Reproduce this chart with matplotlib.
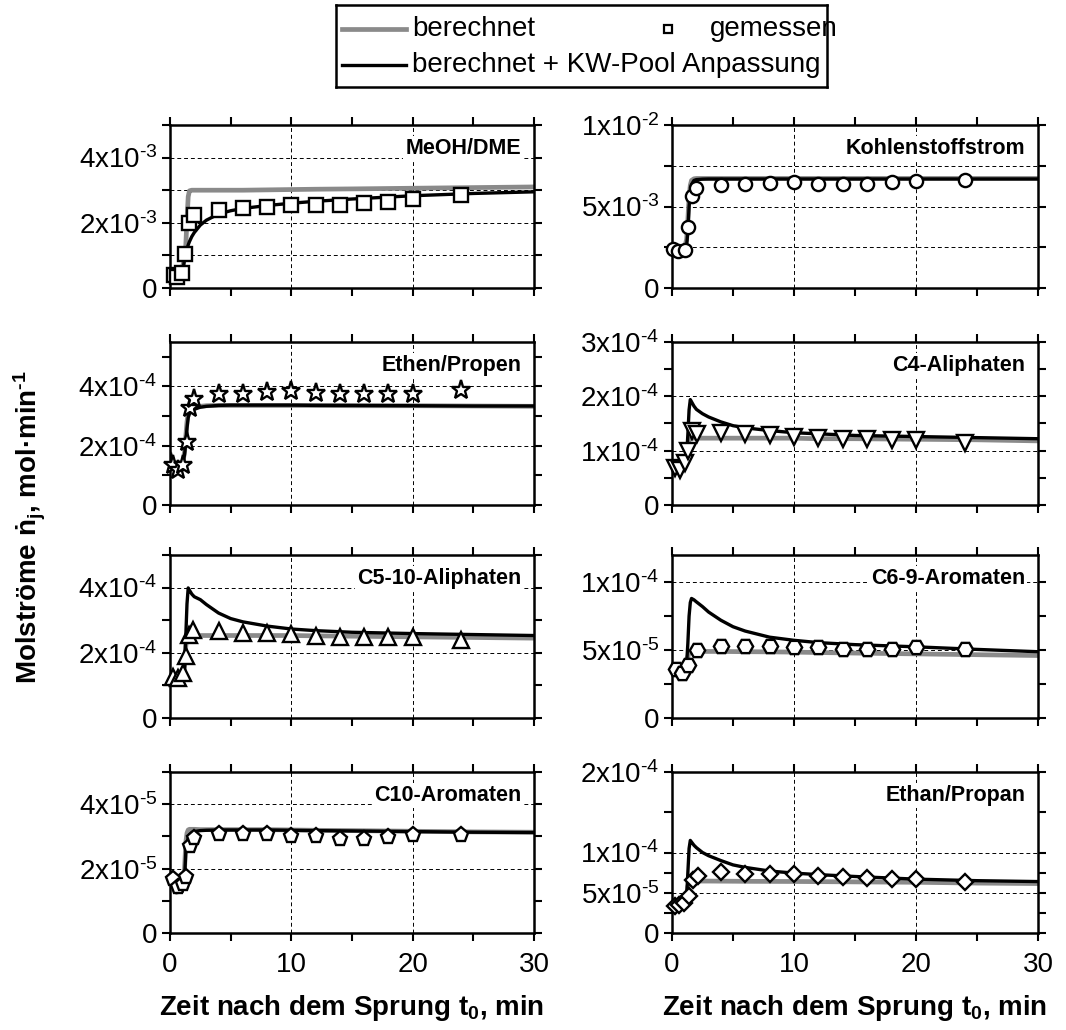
import numpy as np
import matplotlib
matplotlib.use("Agg")
import matplotlib.pyplot as plt
from matplotlib.ticker import FixedLocator, FuncFormatter
from matplotlib.lines import Line2D

plt.rcParams['font.family'] = ['Liberation Sans', 'DejaVu Sans']
plt.rcParams['mathtext.fontset'] = 'custom'
plt.rcParams['mathtext.rm'] = 'Liberation Sans'
plt.rcParams['mathtext.it'] = 'Liberation Sans:italic'
plt.rcParams['mathtext.bf'] = 'Liberation Sans:bold'

# ---------------- data ----------------
titles = ["MeOH/DME", "Kohlenstoffstrom", "Ethen/Propen", "C4-Aliphaten",
          "C5-10-Aliphaten", "C6-9-Aromaten", "C10-Aromaten", "Ethan/Propan"]
markers = ['s', 'o', '*', 'v', '^', 'H', 'p', 'D']
msizes = [9.5, 9.5, 14, 11, 11, 11, 11, 8.5]

t_line = [0, 0.5, 1.0, 1.2, 1.3, 1.4, 1.5, 1.6, 1.8, 2.0, 2.5, 3, 4, 5, 6, 8, 10, 12, 15, 20, 25, 30]
t_meas = [4, 6, 8, 10, 12, 14, 16, 18, 20, 24]

# MeOH/DME (x1e-3)
meoh_gray = [0.55, 0.55, 0.6, 0.9, 1.3, 2.1, 2.8, 2.98, 3.0, 3.0, 3.0, 3.0, 3.0, 3.0, 3.0, 3.01, 3.02, 3.03, 3.04, 3.06, 3.08, 3.1]
meoh_black = [0.2, 0.2, 0.35, 0.9, 1.05, 1.2, 1.32, 1.42, 1.58, 1.7, 1.93, 2.08, 2.27, 2.37, 2.44, 2.53, 2.6, 2.66, 2.73, 2.83, 2.9, 2.95]
meoh_t0 = [0.3, 0.6, 1.0, 1.25, 1.6, 2.0]
meoh_meas = [0.4, 0.35, 0.45, 1.05, 2.0, 2.25, 2.4, 2.45, 2.5, 2.55, 2.55, 2.56, 2.6, 2.65, 2.72, 2.86]

# Kohlenstoffstrom (x1e-3)
kohl_gray = [2.4, 2.3, 2.35, 3.0, 4.2, 5.6, 6.3, 6.6, 6.7, 6.72, 6.72, 6.72, 6.72, 6.72, 6.72, 6.72, 6.72, 6.72, 6.72, 6.72, 6.72, 6.72]
kohl_black = [2.4, 2.25, 2.3, 2.6, 3.5, 5.0, 5.9, 6.35, 6.6, 6.65, 6.68, 6.69, 6.69, 6.69, 6.69, 6.69, 6.69, 6.69, 6.69, 6.69, 6.69, 6.69]
kohl_t0 = [0.1, 0.5, 1.05, 1.35, 1.65, 2.0]
kohl_meas = [2.42, 2.28, 2.36, 3.74, 5.67, 6.14, 6.34, 6.36, 6.46, 6.48, 6.36, 6.36, 6.4, 6.48, 6.57, 6.65]

# Ethen/Propen (x1e-4)
ethen_gray = [1.75, 1.2, 1.25, 1.8, 2.3, 2.8, 3.1, 3.2, 3.27, 3.3, 3.33, 3.35, 3.36, 3.36, 3.36, 3.36, 3.36, 3.36, 3.35, 3.35, 3.34, 3.33]
ethen_black = [1.75, 1.2, 1.25, 1.7, 2.1, 2.6, 2.95, 3.08, 3.18, 3.23, 3.3, 3.33, 3.36, 3.37, 3.37, 3.37, 3.37, 3.36, 3.36, 3.35, 3.34, 3.34]
ethen_t0 = [0.27, 0.68, 1.04, 1.37, 1.65, 1.98]
ethen_meas = [1.36, 1.19, 1.36, 2.11, 3.28, 3.58, 3.73, 3.76, 3.81, 3.84, 3.79, 3.76, 3.76, 3.76, 3.73, 3.87]

# C4-Aliphaten (x1e-4)
c4_gray = [0.72, 0.68, 0.72, 0.95, 1.1, 1.2, 1.22, 1.23, 1.23, 1.23, 1.23, 1.23, 1.23, 1.23, 1.23, 1.23, 1.23, 1.22, 1.22, 1.21, 1.2, 1.18]
c4_black = [0.72, 0.68, 0.72, 0.9, 1.3, 1.75, 1.94, 1.9, 1.82, 1.76, 1.68, 1.62, 1.53, 1.46, 1.42, 1.37, 1.33, 1.31, 1.28, 1.26, 1.24, 1.22]
c4_t0 = [0.25, 0.66, 1.07, 1.28, 1.61, 2.02]
c4_meas = [0.68, 0.65, 0.77, 0.99, 1.36, 1.30, 1.33, 1.30, 1.28, 1.26, 1.23, 1.22, 1.22, 1.19, 1.19, 1.15]

# C5-10-Aliphaten (x1e-4)
c5_gray = [1.17, 1.12, 1.15, 1.6, 2.2, 2.5, 2.53, 2.53, 2.53, 2.53, 2.53, 2.53, 2.53, 2.53, 2.53, 2.53, 2.53, 2.52, 2.51, 2.49, 2.47, 2.45]
c5_black = [1.17, 1.12, 1.15, 1.5, 2.5, 3.5, 3.99, 3.92, 3.8, 3.72, 3.63, 3.48, 3.22, 3.05, 2.95, 2.82, 2.73, 2.68, 2.63, 2.59, 2.56, 2.53]
c5_t0 = [0.27, 0.68, 1.04, 1.32, 1.6, 1.92]
c5_meas = [1.27, 1.22, 1.37, 1.89, 2.55, 2.71, 2.66, 2.62, 2.6, 2.58, 2.53, 2.5, 2.5, 2.48, 2.48, 2.4]

# C6-9-Aromaten (x1e-5)
c69_gray = [3.6, 3.35, 3.4, 4.0, 4.5, 4.8, 4.88, 4.9, 4.9, 4.9, 4.9, 4.9, 4.9, 4.89, 4.88, 4.87, 4.85, 4.82, 4.78, 4.72, 4.66, 4.6]
c69_black = [3.6, 3.35, 3.4, 4.0, 5.5, 7.5, 8.5, 8.8, 8.7, 8.55, 8.2, 7.8, 7.2, 6.72, 6.4, 5.95, 5.72, 5.55, 5.4, 5.24, 5.05, 4.88]
c69_t0 = [0.33, 0.79, 1.34, 2.02]
c69_meas = [3.58, 3.33, 3.9, 5.0, 5.32, 5.32, 5.32, 5.24, 5.24, 5.05, 5.07, 5.05, 5.24, 5.07]

# C10-Aromaten (x1e-5)
c10_gray = [1.6, 1.3, 1.35, 2.0, 2.8, 3.1, 3.2, 3.22, 3.22, 3.22, 3.21, 3.21, 3.21, 3.21, 3.21, 3.21, 3.2, 3.19, 3.18, 3.16, 3.14, 3.13]
c10_black = [1.73, 1.25, 1.28, 1.7, 2.5, 2.8, 2.95, 3.05, 3.12, 3.15, 3.18, 3.19, 3.2, 3.2, 3.2, 3.2, 3.19, 3.18, 3.17, 3.15, 3.13, 3.12]
c10_t0 = [0.27, 0.68, 1.04, 1.32, 1.65, 1.98]
c10_meas = [1.68, 1.42, 1.51, 1.73, 2.71, 2.96, 3.07, 3.07, 3.09, 3.02, 3.02, 2.91, 2.91, 2.98, 3.05, 3.04]

# Ethan/Propan (x1e-5)
ethan_gray = [2.75, 3.2, 3.6, 4.5, 5.8, 6.3, 6.45, 6.45, 6.45, 6.45, 6.45, 6.45, 6.44, 6.43, 6.42, 6.41, 6.4, 6.38, 6.35, 6.3, 6.2, 6.14]
ethan_black = [2.75, 3.2, 3.6, 4.5, 7.5, 10.5, 11.5, 11.3, 10.9, 10.6, 10.0, 9.6, 9.0, 8.46, 8.15, 7.7, 7.44, 7.25, 7.02, 6.69, 6.5, 6.39]
ethan_t0 = [0.25, 0.57, 0.98, 1.39, 1.69, 2.1]
ethan_meas = [3.36, 3.52, 3.67, 4.6, 6.6, 7.13, 7.53, 7.38, 7.31, 7.31, 7.07, 6.98, 6.85, 6.76, 6.67, 6.30]

scales = [1e-3, 1e-3, 1e-4, 1e-4, 1e-4, 1e-5, 1e-5, 1e-5]
grays = [meoh_gray, kohl_gray, ethen_gray, c4_gray, c5_gray, c69_gray, c10_gray, ethan_gray]
blacks = [meoh_black, kohl_black, ethen_black, c4_black, c5_black, c69_black, c10_black, ethan_black]
t_early = [meoh_t0, kohl_t0, ethen_t0, c4_t0, c5_t0, c69_t0, c10_t0, ethan_t0]
meas = [meoh_meas, kohl_meas, ethen_meas, c4_meas, c5_meas, c69_meas, c10_meas, ethan_meas]

ylims = [5e-3, 1e-2, 5.5e-4, 3e-4, 5e-4, 1.2e-4, 5e-5, 2e-4]
ymajor = [[0, 2e-3, 4e-3], [0, 5e-3, 1e-2], [0, 2e-4, 4e-4], [0, 1e-4, 2e-4, 3e-4],
          [0, 2e-4, 4e-4], [0, 5e-5, 1e-4], [0, 2e-5, 4e-5], [0, 5e-5, 1e-4, 2e-4]]
yminor = [[1e-3, 3e-3, 5e-3], [2.5e-3, 7.5e-3], [1e-4, 3e-4, 5e-4], [0.5e-4, 1.5e-4, 2.5e-4],
          [1e-4, 3e-4, 5e-4], [2.5e-5, 7.5e-5], [1e-5, 3e-5, 5e-5], [2.5e-5, 7.5e-5, 1.5e-4]]
ygrid = [[1e-3, 2e-3, 3e-3, 4e-3], [2.5e-3, 5e-3, 7.5e-3], [2e-4, 4e-4], [1e-4, 2e-4],
         [2e-4, 4e-4], [5e-5, 1e-4], [2e-5, 4e-5], [5e-5, 1e-4]]
xticks = [0, 10, 20, 30]
xminor = [5, 15, 25]
xgrid = [10, 20]

HY = "\u2010"  # typographic hyphen, as in the original labels


def sci_fmt(v, pos=None):
    if v == 0:
        return "0"
    e = int(np.floor(np.log10(abs(v)) + 1e-9))
    m = int(round(v / 10 ** e))
    return r"%dx10$^{%s%d}$" % (m, HY, abs(e))


# ---------------- figure ----------------
W, H = 1066, 1030
fig = plt.figure(figsize=(W / 100, H / 100), dpi=100)

col_x = [(170, 534), (672, 1038)]
row_y = [(125, 288), (342, 505), (555, 718), (772, 933)]

gray_c = '#8a8a8a'
for i in range(8):
    r, c = divmod(i, 2)
    x0, x1 = col_x[c]
    ytop, ybot = row_y[r]
    ax = fig.add_axes([x0 / W, 1 - ybot / H, (x1 - x0) / W, (ybot - ytop) / H])
    s = scales[i]
    ax.plot(t_line, np.array(grays[i]) * s, color=gray_c, lw=3.4, zorder=2, solid_capstyle='butt')
    ax.plot(t_line, np.array(blacks[i]) * s, color='black', lw=2.4, zorder=3)
    tm = list(t_early[i]) + t_meas
    ax.plot(tm, np.array(meas[i]) * s, linestyle='none', marker=markers[i], ms=msizes[i],
            mfc='white', mec='black', mew=1.7, zorder=4, clip_on=False)
    ax.set_xlim(0, 30)
    ax.set_ylim(0, ylims[i])
    for g in ygrid[i]:
        ax.axhline(g, color='black', lw=0.7, ls=(0, (4, 3)), zorder=1)
    for g in xgrid:
        ax.axvline(g, color='black', lw=0.7, ls=(0, (4, 3)), zorder=1)
    ax.xaxis.set_major_locator(FixedLocator(xticks))
    ax.xaxis.set_minor_locator(FixedLocator(xminor))
    ax.yaxis.set_major_locator(FixedLocator(ymajor[i]))
    ax.yaxis.set_minor_locator(FixedLocator(yminor[i]))
    ax.yaxis.set_major_formatter(FuncFormatter(sci_fmt))
    ax.tick_params(which='both', direction='out', length=6, width=1.5,
                   top=True, right=True, labelsize=20, pad=3)
    if r < 3:
        ax.tick_params(axis='x', labelbottom=False)
    else:
        ax.tick_params(axis='x', pad=8)
    for sp in ax.spines.values():
        sp.set_linewidth(1.8)
    ax.text(0.965, 0.855, titles[i], transform=ax.transAxes, ha='right', va='center',
            fontsize=15.5, fontweight='bold', zorder=5,
            bbox=dict(facecolor='white', edgecolor='none', pad=1.5))

# axis labels
for cx in [352, 855]:
    fig.text(cx / W, 1 - 1008 / H, r"Zeit nach dem Sprung t$_\mathbf{0}$, min",
             ha='center', va='center', fontsize=20, fontweight='bold')
fig.text(30 / W, 1 - 527 / H, "Molströme ṅ$_\\mathbf{j}$, mol·min$^\\mathbf{" + HY + "1}$",
         rotation=90, ha='center', va='center', fontsize=20, fontweight='bold')

# legend (manual layout)
lx0, lx1, ly0, ly1 = 336, 827, 5, 87
lax = fig.add_axes([lx0 / W, 1 - ly1 / H, (lx1 - lx0) / W, (ly1 - ly0) / H])
lax.set_xlim(0, lx1 - lx0)
lax.set_ylim(ly1 - ly0, 0)
lax.set_xticks([])
lax.set_yticks([])
for sp in lax.spines.values():
    sp.set_linewidth(1.8)
lax.add_line(Line2D([6, 70], [24, 24], color=gray_c, lw=3.4))
lax.text(76, 24, "berechnet", fontsize=20, va='center', ha='left')
lax.add_line(Line2D([332], [24], marker='s', ms=6, mfc='white', mec='black', mew=1.6, ls='none'))
lax.text(374, 24, "gemessen", fontsize=20, va='center', ha='left')
lax.add_line(Line2D([6, 70], [60, 60], color='black', lw=2.4))
lax.text(76, 60, "berechnet + KW-Pool Anpassung", fontsize=20, va='center', ha='left')

fig.savefig("out.png", dpi=100)
